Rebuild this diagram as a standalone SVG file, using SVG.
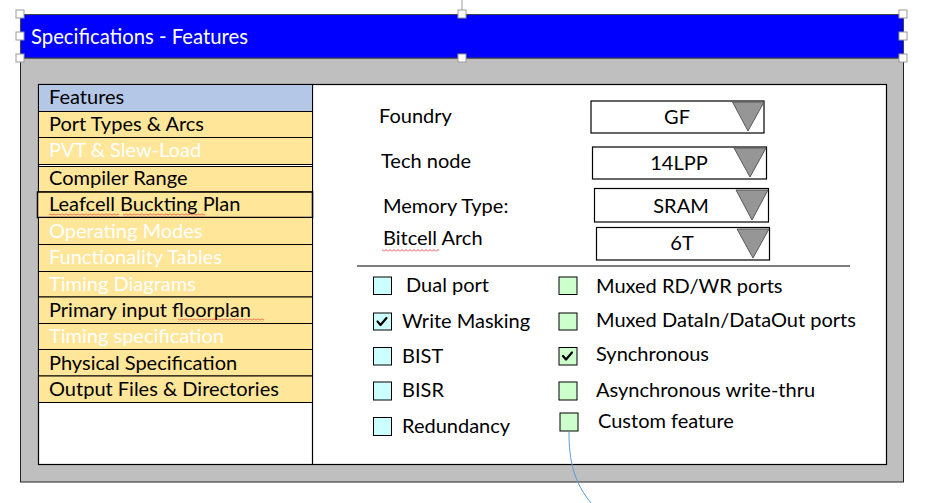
<svg xmlns="http://www.w3.org/2000/svg" width="935" height="503" viewBox="0 0 935 503">
<style>
text{font-family:Lato,"Open Sans","Liberation Sans",sans-serif;}
.menu{font-size:20px;fill:#000;}
.menuw{font-size:20px;fill:#fff;}
.row{fill:#FFE699;stroke:#000;stroke-width:1;}
.lbl{font-size:20px;fill:#000;}
.val{font-size:20px;fill:#000;text-anchor:middle;}
.dd{fill:#fff;stroke:#000;stroke-width:1.2;}
.tri{fill:#969696;stroke:#595959;stroke-width:1;}
.cbc{fill:#CCFFFF;stroke:#000;stroke-width:1;}
.cbg{fill:#CCFFCC;stroke:#000;stroke-width:1;}
.chk{fill:none;stroke:#000;stroke-width:2.2;stroke-linecap:round;stroke-linejoin:round;}
.cbl{font-size:20px;fill:#000;}
.hdl{fill:#fff;stroke:#9a9a9a;stroke-width:1;}
.sq{fill:url(#squig);}
</style>
<defs>
<pattern id="squig" patternUnits="userSpaceOnUse" width="4" height="3">
<path d="M0,2.5 L2,0.5 L4,2.5" fill="none" stroke="#e02020" stroke-width="0.8"/>
</pattern>
</defs>
<rect width="935" height="503" fill="#fff"/>

<g id="window">
<rect x="20.5" y="58" width="883" height="424" fill="#BFBFBF" stroke="#222" stroke-width="1"/>
<rect x="20.5" y="14.5" width="883" height="43.5" fill="#0000FF" stroke="#444" stroke-width="1"/>
<text x="31" y="44" font-size="20.3" fill="#fff">Specifications - Features</text>
<rect x="38.5" y="84.5" width="848" height="380" fill="#fff" stroke="#000" stroke-width="1.2"/>
<line x1="312.5" y1="84.5" x2="312.5" y2="464.5" stroke="#000" stroke-width="1.2"/>
</g>

<g id="selection-handles">
<line x1="462" y1="0" x2="462" y2="10" stroke="#9a9a9a" stroke-width="1"/>
<rect class="hdl" x="16" y="10" width="8" height="8"/>
<rect class="hdl" x="16" y="32" width="8" height="8"/>
<rect class="hdl" x="16" y="54" width="8" height="8"/>
<rect class="hdl" x="458" y="10" width="8" height="8"/>
<rect class="hdl" x="458" y="54" width="8" height="8"/>
<rect class="hdl" x="899" y="10" width="8" height="8"/>
<rect class="hdl" x="899" y="32" width="8" height="8"/>
<rect class="hdl" x="899" y="54" width="8" height="8"/>
</g>

<g id="menu">
<g id="menu-features"><rect x="38.5" y="84.5" width="274" height="27" fill="#B4C7E7" stroke="#000" stroke-width="1"/><text class="menu" x="49" y="104">Features</text></g>
<g id="menu-port-types"><rect class="row" x="38.5" y="111.5" width="274" height="26"/><text class="menu" x="49" y="131">Port Types &amp; Arcs</text></g>
<g id="menu-pvt"><rect class="row" x="38.5" y="137.5" width="274" height="27"/><text class="menuw" x="49" y="157">PVT &amp; Slew-Load</text></g>
<g id="menu-compiler"><rect class="row" x="38.5" y="166.5" width="274" height="25.5"/><text class="menu" x="49" y="184.5">Compiler Range</text></g>
<g id="menu-leafcell"><rect x="37.5" y="192" width="275" height="25.5" fill="#FFE699" stroke="#000" stroke-width="1.5"/><text class="menu" x="49" y="211">Leafcell Buckting Plan</text>
<rect class="sq" x="49" y="213.5" width="70" height="3"/><rect class="sq" x="123" y="213.5" width="82" height="3"/></g>
<g id="menu-operating"><rect class="row" x="38.5" y="217.5" width="274" height="27"/><text class="menuw" x="49" y="237.5">Operating Modes</text></g>
<g id="menu-functionality"><rect class="row" x="38.5" y="244.5" width="274" height="27"/><text class="menuw" x="49" y="264">Functionality Tables</text></g>
<g id="menu-timing-diagrams"><rect class="row" x="38.5" y="271.5" width="274" height="25.5"/><text class="menuw" x="49" y="291">Timing Diagrams</text></g>
<g id="menu-primary"><rect class="row" x="38.5" y="297" width="274" height="26.5"/><text class="menu" x="49" y="316.5">Primary input floorplan</text>
<rect class="sq" x="178" y="318.5" width="86" height="3"/></g>
<g id="menu-timing-spec"><rect class="row" x="38.5" y="323.5" width="274" height="26"/><text class="menuw" x="49" y="343">Timing specification</text></g>
<g id="menu-physical"><rect class="row" x="38.5" y="349.5" width="274" height="26.5"/><text class="menu" x="49" y="369.5">Physical Specification</text></g>
<g id="menu-output"><rect class="row" x="38.5" y="376" width="274" height="26.5"/><text class="menu" x="49" y="396">Output Files &amp; Directories</text></g>
</g>

<g id="foundry">
<text class="lbl" x="379" y="123">Foundry</text>
<rect class="dd" x="591" y="101" width="173" height="32"/>
<text class="val" x="677" y="124">GF</text>
<polygon class="tri" points="732.5,102 764,102 748,131"/>
</g>
<g id="tech-node">
<text class="lbl" x="381" y="168">Tech node</text>
<rect class="dd" x="592.5" y="147" width="174" height="32"/>
<text class="val" x="679" y="170">14LPP</text>
<polygon class="tri" points="734,148 766,148 750,177"/>
</g>
<g id="memory-type">
<text class="lbl" x="383" y="212.5">Memory Type:</text>
<rect class="dd" x="594.5" y="188.5" width="174" height="33.5"/>
<text class="val" x="681" y="213">SRAM</text>
<polygon class="tri" points="736,190 768,190 752,220"/>
</g>
<g id="bitcell-arch">
<text class="lbl" x="383" y="245">Bitcell Arch</text>
<rect class="sq" x="382" y="249" width="57" height="3"/>
<rect class="dd" x="596.5" y="227.5" width="173" height="32.5"/>
<text class="val" x="682" y="250">6T</text>
<polygon class="tri" points="737,229 769,229 753,258"/>
</g>

<line id="separator" x1="357" y1="266" x2="850" y2="266" stroke="#000" stroke-width="1.2"/>

<g id="cb-dual-port"><rect class="cbc" x="373.5" y="277" width="18" height="17.5"/><text class="cbl" x="406" y="292">Dual port</text></g>
<g id="cb-write-masking"><rect class="cbc" x="373.5" y="313" width="18" height="17"/><path class="chk" d="M377.5,321.5 L380.5,325 L386.5,318"/><text class="cbl" x="402" y="328">Write Masking</text></g>
<g id="cb-bist"><rect class="cbc" x="373.5" y="347.5" width="18" height="17.5"/><text class="cbl" x="402" y="363">BIST</text></g>
<g id="cb-bisr"><rect class="cbc" x="373.5" y="382" width="18" height="18"/><text class="cbl" x="402" y="397">BISR</text></g>
<g id="cb-redundancy"><rect class="cbc" x="373.5" y="417.5" width="18" height="18"/><text class="cbl" x="402" y="433">Redundancy</text></g>

<g id="cb-muxed-rdwr"><rect class="cbg" x="559" y="277" width="18" height="17.5"/><text class="cbl" x="596" y="293">Muxed RD/WR ports</text></g>
<g id="cb-muxed-data"><rect class="cbg" x="559" y="313" width="18" height="17"/><text class="cbl" x="596" y="327">Muxed DataIn/DataOut ports</text></g>
<g id="cb-synchronous"><rect class="cbg" x="559" y="347.5" width="18" height="17.5"/><path class="chk" d="M563,356 L566,359.5 L572,352.5"/><text class="cbl" x="596" y="361">Synchronous</text></g>
<g id="cb-async"><rect class="cbg" x="559" y="382" width="18" height="18"/><text class="cbl" x="596" y="397">Asynchronous write-thru</text></g>
<g id="cb-custom"><rect class="cbg" x="560" y="413" width="18" height="18"/><text class="cbl" x="598" y="428">Custom feature</text></g>

<g id="connectors">
<path d="M569,431.5 C569,462 574,482 591,503" fill="none" stroke="#5B9BD5" stroke-width="1"/>
</g>
</svg>
